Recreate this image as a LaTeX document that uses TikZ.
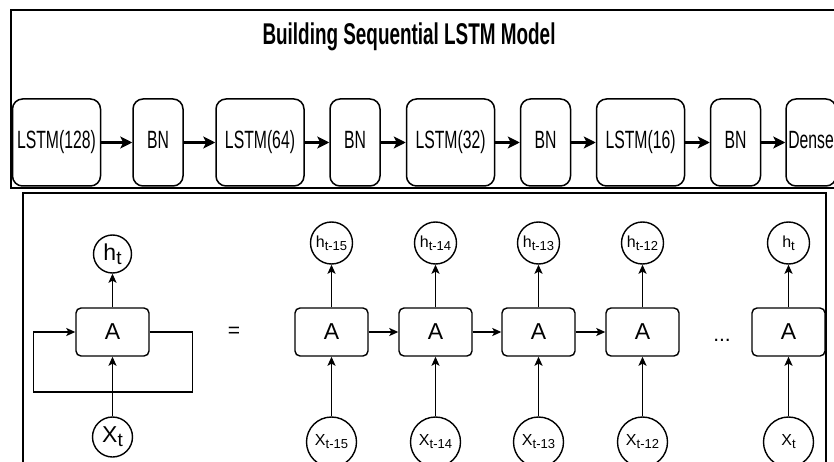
\documentclass[tikz,border=0pt]{standalone}
\usepackage{fontspec}
\setmainfont{Liberation Sans}
\newfontfamily\narrowfont[FakeStretch=0.63]{Liberation Sans}
\usetikzlibrary{arrows.meta}
\newcommand\lowsub[2]{\raisebox{-#2}{#1}}
\begin{document}
\begin{tikzpicture}[x=1pt,y=-1pt,
  layer/.style={draw, line width=1.5pt, rounded corners=10pt, minimum height=87pt, inner sep=0pt,
    font=\narrowfont\fontsize{25}{27}\selectfont, text height=18pt, text depth=5pt},
  widebox/.style={layer, minimum width=88pt},
  bnbox/.style={layer, minimum width=50pt},
  tarrow/.style={-{Stealth[length=12pt,width=12pt,inset=3pt]}, line width=2.2pt},
  cell/.style={draw, line width=1.4pt, rounded corners=5pt, minimum width=73pt, minimum height=48pt,
    inner sep=0pt, font=\fontsize{23}{25}\selectfont},
  hc/.style={draw, circle, line width=1.4pt, minimum size=42pt, inner sep=0pt, font=\fontsize{16}{18}\selectfont},
  xc/.style={hc, minimum size=50pt},
  bigc/.style={draw, circle, line width=1.4pt, minimum size=38pt, inner sep=0pt, font=\fontsize{23}{25}\selectfont},
  arr/.style={-{Stealth[length=9pt,width=8pt,inset=2pt]}, line width=1.4pt},
  frame/.style={draw, line width=1.5pt}
]
\useasboundingbox (0,0) rectangle (834,462);
% frames
\draw[frame] (11,10) rectangle (845,188);
\draw[frame] (23,193) rectangle (826,475);
% title
\node[anchor=base, font=\narrowfont\bfseries\fontsize{30}{32}\selectfont] (title) at (409,45) {Building Sequential LSTM Model};
% top row
\node[widebox] (l1) at (56.5,142.5) {LSTM(128)};
\node[bnbox] (b1) at (158,142.5) {BN};
\node[widebox] (l2) at (260,142.5) {LSTM(64)};
\node[bnbox] (b2) at (355,142.5) {BN};
\node[widebox] (l3) at (450.5,142.5) {LSTM(32)};
\node[bnbox] (b3) at (545.5,142.5) {BN};
\node[widebox] (l4) at (640.5,142.5) {LSTM(16)};
\node[bnbox] (b4) at (735.5,142.5) {BN};
\node[bnbox] (d) at (811,142.5) {Dense};
\draw[tarrow] (l1) -- (b1);
\draw[tarrow] (b1) -- (l2);
\draw[tarrow] (l2) -- (b2);
\draw[tarrow] (b2) -- (l3);
\draw[tarrow] (l3) -- (b3);
\draw[tarrow] (b3) -- (l4);
\draw[tarrow] (l4) -- (b4);
\draw[tarrow] (b4) -- (d);
% folded cell
\node[cell] (a0) at (112.5,332) {A};
\node[bigc] (h0) at (112.5,254) {h\lowsub{\fontsize{19}{20}\selectfont t}{4pt}};
\node[bigc, minimum size=40pt] (x0) at (112.5,437) {X\lowsub{\fontsize{19}{20}\selectfont t}{4pt}};
\draw[arr] (a0) -- (h0);
\draw[arr] (x0) -- (a0);
\draw[arr] (a0.east) -- ++(43,0) -- ++(0,60) -- ++(-159,0) |- (a0.west);
\node[font=\fontsize{21}{22}\selectfont] (eq) at (234,332) {=};
% unrolled
\node[cell] (a1) at (331.5,332) {A};
\node[cell] (a2) at (435.5,332) {A};
\node[cell] (a3) at (538.5,332) {A};
\node[cell] (a4) at (642.5,332) {A};
\node[cell] (a5) at (788.5,332) {A};
\node[hc] (h1) at (331.5,243) {h\lowsub{\fontsize{13}{14}\selectfont t-15}{3pt}};
\node[hc] (h2) at (435.5,243) {h\lowsub{\fontsize{13}{14}\selectfont t-14}{3pt}};
\node[hc] (h3) at (538.5,243) {h\lowsub{\fontsize{13}{14}\selectfont t-13}{3pt}};
\node[hc] (h4) at (642.5,243) {h\lowsub{\fontsize{13}{14}\selectfont t-12}{3pt}};
\node[hc] (h5) at (788.5,243) {h\lowsub{\fontsize{13}{14}\selectfont t}{3pt}};
\node[xc] (x1) at (331.5,442) {X\lowsub{\fontsize{13}{14}\selectfont t-15}{3pt}};
\node[xc] (x2) at (435.5,442) {X\lowsub{\fontsize{13}{14}\selectfont t-14}{3pt}};
\node[xc] (x3) at (538.5,442) {X\lowsub{\fontsize{13}{14}\selectfont t-13}{3pt}};
\node[xc] (x4) at (642.5,442) {X\lowsub{\fontsize{13}{14}\selectfont t-12}{3pt}};
\node[xc] (x5) at (788.5,442) {X\lowsub{\fontsize{13}{14}\selectfont t}{3pt}};
\foreach \i in {1,...,5} {
  \draw[arr] (a\i) -- (h\i);
  \draw[arr] (x\i) -- (a\i);
}
\draw[arr] (a1) -- (a2);
\draw[arr] (a2) -- (a3);
\draw[arr] (a3) -- (a4);
\node[font=\fontsize{21}{22}\selectfont] (dots) at (722,340) {...};
\end{tikzpicture}
\end{document}
